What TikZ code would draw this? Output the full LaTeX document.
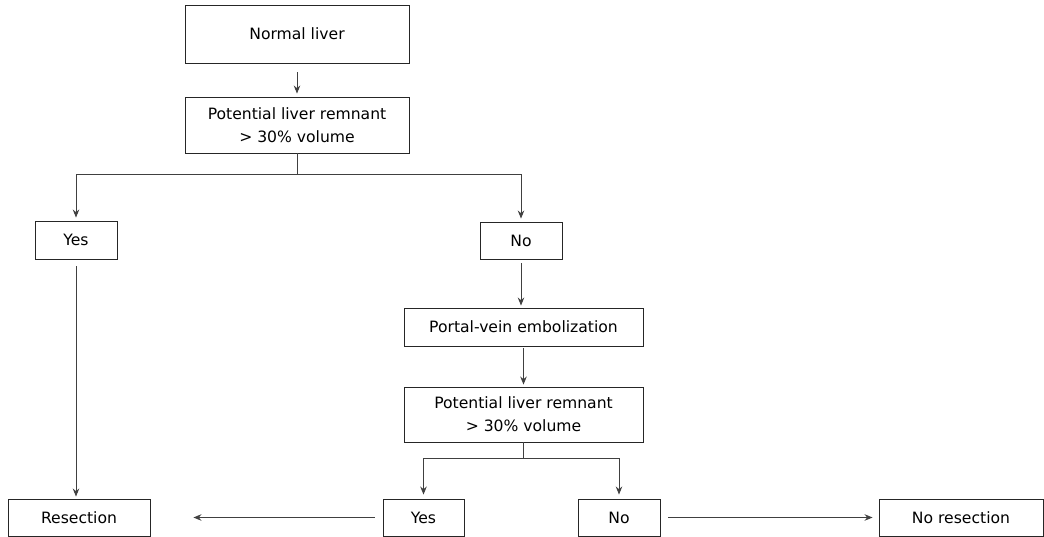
\documentclass[tikz,border=0pt]{standalone}
\usepackage{fontspec}
\setmainfont{DejaVu Sans}
\usetikzlibrary{arrows.meta}
\tikzset{
    box/.style={draw=black!85,line width=0.9pt,inner sep=0pt,align=center,
        font=\fontsize{15.6}{23}\selectfont},
    conn/.style={draw=black!75,line width=0.9pt},
}
\begin{document}
\begin{tikzpicture}[x=1pt,y=-1pt,>={Stealth[length=8pt,width=6.5pt]}]
        \useasboundingbox (0,0) rectangle (1044,537);
        % riquadri
        \node[box,minimum width=224,minimum height=58] (normal) at (297,34) {Normal liver};
        \node[box,minimum width=224,minimum height=56] (pot1) at (297,125) {Potential liver remnant\\> 30\% volume};
        \node[box,minimum width=82,minimum height=38] (yes1) at (76,240) {Yes};
        \node[box,minimum width=82,minimum height=37] (no1) at (521,240.5) {No};
        \node[box,minimum width=239,minimum height=38] (pve) at (523.5,327) {Portal-vein embolization};
        \node[box,minimum width=239,minimum height=55] (pot2) at (523.5,414.5) {Potential liver remnant\\> 30\% volume};
        \node[box,minimum width=142,minimum height=37] (resect) at (79,517.5) {Resection};
        \node[box,minimum width=81,minimum height=37] (yes2) at (423.5,517.5) {Yes};
        \node[box,minimum width=82,minimum height=37] (no2) at (619,517.5) {No};
        \node[box,minimum width=164,minimum height=37] (nores) at (961,517.5) {No resection};
        % punti di diramazione
        \coordinate (split1) at (297,174);
        \coordinate (split2) at (523.5,458);
        % frecce
        \draw[conn,->,shorten <=9pt,shorten >=3pt] (normal) -- (pot1);
        \draw[conn] (pot1) -- (split1);
        \draw[conn,->,shorten >=3pt] (split1) -| (yes1);
        \draw[conn,->,shorten >=3pt] (split1) -| (no1);
        \draw[conn,->,shorten <=7pt,shorten >=2pt] (yes1.south) -- (yes1.south |- resect.north);
        \draw[conn,->,shorten <=4pt,shorten >=2pt] (no1.south) -- (no1.south |- pve.north);
        \draw[conn,->,shorten <=2pt,shorten >=2pt] (pve) -- (pot2);
        \draw[conn] (pot2) -- (split2);
        \draw[conn,->,shorten >=4pt] (split2) -| (yes2);
        \draw[conn,->,shorten >=4pt] (split2) -| (no2);
        \draw[conn,->,shorten <=8pt,shorten >=43pt] (yes2) -- (resect);
        \draw[conn,->,shorten <=8pt,shorten >=6pt] (no2) -- (nores);
    \end{tikzpicture}
\end{document}
